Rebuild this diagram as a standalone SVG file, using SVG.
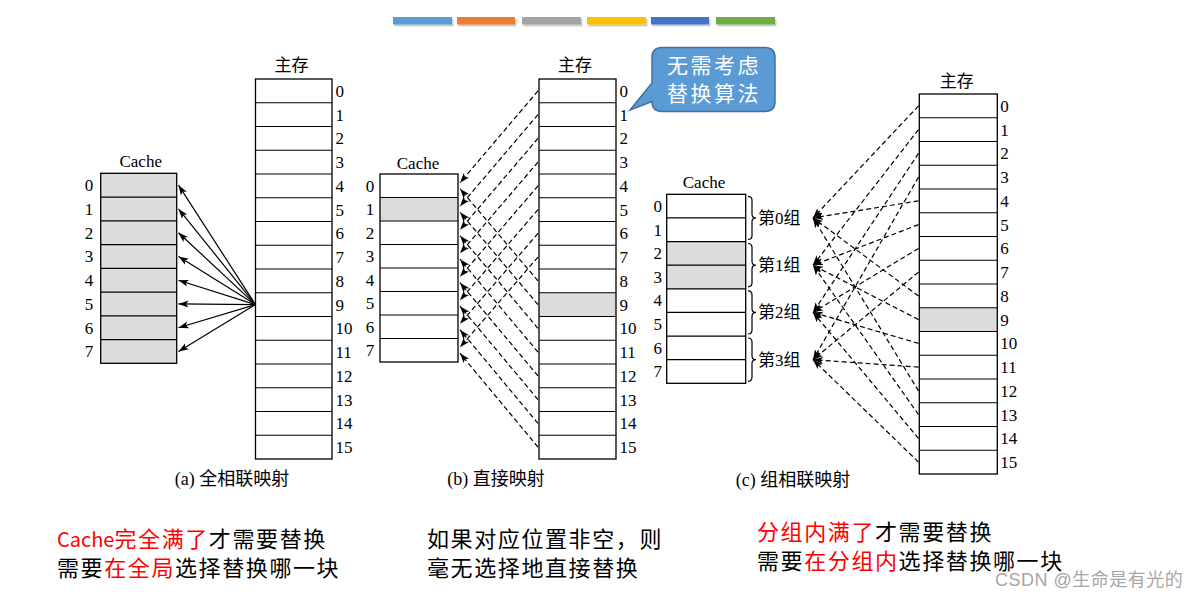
<svg xmlns="http://www.w3.org/2000/svg" width="1201" height="599" viewBox="0 0 1201 599">
<style>
.box{fill:none;stroke:#000;stroke-width:1.3}
.sep{fill:none;stroke:#000;stroke-width:1.2}
.gray{fill:#dcdcdc}
.num{font-family:"Liberation Serif",serif;font-size:17px;fill:#000}
.lbl{font-family:"Liberation Serif","Noto Sans CJK SC",serif;font-size:17px;fill:#000}
.zc{font-family:"Noto Sans CJK SC",sans-serif;font-size:17px;fill:#000}
.cap{font-family:"Liberation Serif","Noto Sans CJK SC",serif;font-size:18px;fill:#000}
.solid{fill:none;stroke:#000;stroke-width:1.2;marker-end:url(#ah)}
.dash{fill:none;stroke:#000;stroke-width:1.2;stroke-dasharray:5 3;marker-end:url(#ah)}
.note{font-family:"Noto Sans CJK SC",sans-serif;font-size:22px;letter-spacing:1.6px;fill:#000}
.red{fill:#ff0000}
</style>
<defs>
<marker id="ah" markerUnits="userSpaceOnUse" markerWidth="11" markerHeight="8" refX="10" refY="4" orient="auto">
<path d="M0,0.5 L10,4 L0,7.5 L2.5,4 Z" fill="#000"/>
</marker>
</defs>
<rect width="1201" height="599" fill="#fff"/>

<g id="color-bars">
<g fill="#000" opacity="0.18">
<rect x="394.5" y="19" width="59" height="7.5"/>
<rect x="458.5" y="19" width="58" height="7.5"/>
<rect x="523.5" y="19" width="59" height="7.5"/>
<rect x="588.5" y="19" width="59" height="7.5"/>
<rect x="652.5" y="19" width="58" height="7.5"/>
<rect x="717.5" y="19" width="59" height="7.5"/>
</g>
<rect x="393" y="17" width="59" height="7.5" fill="#5b9bd5"/>
<rect x="457" y="17" width="58" height="7.5" fill="#ed7d31"/>
<rect x="522" y="17" width="59" height="7.5" fill="#a5a5a5"/>
<rect x="587" y="17" width="59" height="7.5" fill="#ffc000"/>
<rect x="651" y="17" width="58" height="7.5" fill="#4472c4"/>
<rect x="716" y="17" width="59" height="7.5" fill="#70ad47"/>
</g>

<!-- (a) fully associative -->
<g id="a-mem" transform="translate(255.5,79)">
<rect class="box" width="76.5" height="380"/>
<path class="sep" d="M0 23.75H76.5M0 47.5H76.5M0 71.25H76.5M0 95H76.5M0 118.75H76.5M0 142.5H76.5M0 166.25H76.5M0 190H76.5M0 213.75H76.5M0 237.5H76.5M0 261.25H76.5M0 285H76.5M0 308.75H76.5M0 332.5H76.5M0 356.25H76.5"/>
<text class="zc" x="36" y="-8" text-anchor="middle">主存</text>
<g class="num">
<text x="80" y="17.8">0</text><text x="80" y="41.5">1</text><text x="80" y="65.3">2</text><text x="80" y="89">3</text>
<text x="80" y="112.8">4</text><text x="80" y="136.5">5</text><text x="80" y="160.3">6</text><text x="80" y="184">7</text>
<text x="80" y="207.8">8</text><text x="80" y="231.5">9</text><text x="80" y="255.3">10</text><text x="80" y="279">11</text>
<text x="80" y="302.8">12</text><text x="80" y="326.5">13</text><text x="80" y="350.3">14</text><text x="80" y="374">15</text>
</g>
</g>
<g id="a-cache" transform="translate(100.7,173.3)">
<rect class="gray" width="76" height="190"/>
<rect class="box" width="76" height="190"/>
<path class="sep" d="M0 23.75H76M0 47.5H76M0 71.25H76M0 95H76M0 118.75H76M0 142.5H76M0 166.25H76"/>
<text class="lbl" x="40" y="-6" text-anchor="middle">Cache</text>
<g class="num" text-anchor="middle">
<text x="-11.7" y="17.8">0</text><text x="-11.7" y="41.5">1</text><text x="-11.7" y="65.3">2</text><text x="-11.7" y="89">3</text>
<text x="-11.7" y="112.8">4</text><text x="-11.7" y="136.5">5</text><text x="-11.7" y="160.3">6</text><text x="-11.7" y="184">7</text>
</g>
</g>
<text id="a-caption" class="cap" x="232" y="485" text-anchor="middle">(a) 全相联映射</text>

<!-- (b) direct -->
<g id="b-mem" transform="translate(539,79)">
<rect class="gray" y="213.75" width="77" height="23.75"/>
<rect class="box" width="77" height="380"/>
<path class="sep" d="M0 23.75H77M0 47.5H77M0 71.25H77M0 95H77M0 118.75H77M0 142.5H77M0 166.25H77M0 190H77M0 213.75H77M0 237.5H77M0 261.25H77M0 285H77M0 308.75H77M0 332.5H77M0 356.25H77"/>
<text class="zc" x="36" y="-8" text-anchor="middle">主存</text>
<g class="num">
<text x="80.5" y="17.8">0</text><text x="80.5" y="41.5">1</text><text x="80.5" y="65.3">2</text><text x="80.5" y="89">3</text>
<text x="80.5" y="112.8">4</text><text x="80.5" y="136.5">5</text><text x="80.5" y="160.3">6</text><text x="80.5" y="184">7</text>
<text x="80.5" y="207.8">8</text><text x="80.5" y="231.5">9</text><text x="80.5" y="255.3">10</text><text x="80.5" y="279">11</text>
<text x="80.5" y="302.8">12</text><text x="80.5" y="326.5">13</text><text x="80.5" y="350.3">14</text><text x="80.5" y="374">15</text>
</g>
</g>
<g id="b-cache" transform="translate(380,174)">
<rect class="gray" y="23.5" width="78" height="23.5"/>
<rect class="box" width="78" height="188"/>
<path class="sep" d="M0 23.5H78M0 47H78M0 70.5H78M0 94H78M0 117.5H78M0 141H78M0 164.5H78"/>
<text class="lbl" x="38" y="-5.5" text-anchor="middle">Cache</text>
<g class="num" text-anchor="middle">
<text x="-10" y="17.6">0</text><text x="-10" y="41.1">1</text><text x="-10" y="64.6">2</text><text x="-10" y="88.1">3</text>
<text x="-10" y="111.6">4</text><text x="-10" y="135.1">5</text><text x="-10" y="158.6">6</text><text x="-10" y="182.1">7</text>
</g>
</g>
<text id="b-caption" class="cap" x="496" y="485" text-anchor="middle">(b) 直接映射</text>

<g id="callout">
<path d="M662 47.5H765Q775 47.5 775 57.5V101.5Q775 111.5 765 111.5H662Q652 111.5 652 101.5L630 110L652 83V57.5Q652 47.5 662 47.5Z" fill="#5b9bd5" stroke="#41719c" stroke-width="1.5"/>
<text x="714" y="73" text-anchor="middle" font-family="'Noto Sans CJK SC',sans-serif" font-size="21" letter-spacing="2.5" fill="#fff">无需考虑</text>
<text x="714" y="101" text-anchor="middle" font-family="'Noto Sans CJK SC',sans-serif" font-size="21" letter-spacing="2.5" fill="#fff">替换算法</text>
</g>

<!-- (c) set associative -->
<g id="c-mem" transform="translate(919.3,94)">
<rect class="gray" y="213.75" width="78" height="23.75"/>
<rect class="box" width="78" height="380"/>
<path class="sep" d="M0 23.75H78M0 47.5H78M0 71.25H78M0 95H78M0 118.75H78M0 142.5H78M0 166.25H78M0 190H78M0 213.75H78M0 237.5H78M0 261.25H78M0 285H78M0 308.75H78M0 332.5H78M0 356.25H78"/>
<text class="zc" x="37.5" y="-7" text-anchor="middle">主存</text>
<g class="num">
<text x="81" y="17.8">0</text><text x="81" y="41.5">1</text><text x="81" y="65.3">2</text><text x="81" y="89">3</text>
<text x="81" y="112.8">4</text><text x="81" y="136.5">5</text><text x="81" y="160.3">6</text><text x="81" y="184">7</text>
<text x="81" y="207.8">8</text><text x="81" y="231.5">9</text><text x="81" y="255.3">10</text><text x="81" y="279">11</text>
<text x="81" y="302.8">12</text><text x="81" y="326.5">13</text><text x="81" y="350.3">14</text><text x="81" y="374">15</text>
</g>
</g>
<g id="c-cache" transform="translate(666.7,194.3)">
<rect class="gray" y="47.25" width="79" height="47.25"/>
<rect class="box" width="79" height="189"/>
<path class="sep" d="M0 23.625H79M0 47.25H79M0 70.875H79M0 94.5H79M0 118.125H79M0 141.75H79M0 165.375H79"/>
<text class="lbl" x="37.3" y="-6.3" text-anchor="middle">Cache</text>
<g class="num" text-anchor="middle">
<text x="-9" y="17.7">0</text><text x="-9" y="41.3">1</text><text x="-9" y="65">2</text><text x="-9" y="88.6">3</text>
<text x="-9" y="112.2">4</text><text x="-9" y="135.8">5</text><text x="-9" y="159.5">6</text><text x="-9" y="183.1">7</text>
</g>
</g>
<g id="c-groups">
<path class="sep" d="M748 196.3Q752 196.3 752 200.3V213.9Q752 217.9 756 217.9Q752 217.9 752 221.9V235.5Q752 239.5 748 239.5"/>
<path class="sep" d="M748 243.5Q752 243.5 752 247.5V261.2Q752 265.2 756 265.2Q752 265.2 752 269.2V282.8Q752 286.8 748 286.8"/>
<path class="sep" d="M748 290.8Q752 290.8 752 294.8V308.4Q752 312.4 756 312.4Q752 312.4 752 316.4V330Q752 334 748 334"/>
<path class="sep" d="M748 338Q752 338 752 342V355.7Q752 359.7 756 359.7Q752 359.7 752 363.7V377.3Q752 381.3 748 381.3"/>
<text class="lbl" x="758" y="223.9">第0组</text>
<text class="lbl" x="758" y="271.2">第1组</text>
<text class="lbl" x="758" y="318.4">第2组</text>
<text class="lbl" x="758" y="365.7">第3组</text>
</g>
<text id="c-caption" class="cap" x="793" y="486" text-anchor="middle">(c) 组相联映射</text>

<g id="connectors">
<g id="conn-a">
<line class="solid" x1="255.5" y1="304.6" x2="178.5" y2="185.2"/>
<line class="solid" x1="255.5" y1="304.6" x2="178.5" y2="208.9"/>
<line class="solid" x1="255.5" y1="304.6" x2="178.5" y2="232.7"/>
<line class="solid" x1="255.5" y1="304.6" x2="178.5" y2="256.4"/>
<line class="solid" x1="255.5" y1="304.6" x2="178.5" y2="280.2"/>
<line class="solid" x1="255.5" y1="304.6" x2="178.5" y2="303.9"/>
<line class="solid" x1="255.5" y1="304.6" x2="178.5" y2="327.7"/>
<line class="solid" x1="255.5" y1="304.6" x2="178.5" y2="351.4"/>
</g>
<g id="conn-b">
<line class="dash" x1="538" y1="90.9" x2="460" y2="182.75"/>
<line class="dash" x1="538" y1="114.6" x2="460" y2="206.25"/>
<line class="dash" x1="538" y1="138.4" x2="460" y2="229.75"/>
<line class="dash" x1="538" y1="162.1" x2="460" y2="253.25"/>
<line class="dash" x1="538" y1="185.9" x2="460" y2="276.75"/>
<line class="dash" x1="538" y1="209.6" x2="460" y2="300.25"/>
<line class="dash" x1="538" y1="233.4" x2="460" y2="323.75"/>
<line class="dash" x1="538" y1="257.1" x2="460" y2="347.25"/>
<line class="dash" x1="538" y1="280.9" x2="460" y2="188.75"/>
<line class="dash" x1="538" y1="304.6" x2="460" y2="212.25"/>
<line class="dash" x1="538" y1="328.4" x2="460" y2="235.75"/>
<line class="dash" x1="538" y1="352.1" x2="460" y2="259.25"/>
<line class="dash" x1="538" y1="375.9" x2="460" y2="282.75"/>
<line class="dash" x1="538" y1="399.6" x2="460" y2="306.25"/>
<line class="dash" x1="538" y1="423.4" x2="460" y2="329.75"/>
<line class="dash" x1="538" y1="447.1" x2="460" y2="353.25"/>
</g>
<g id="conn-c">
<line class="dash" x1="918.5" y1="105.9" x2="813" y2="217.9"/>
<line class="dash" x1="918.5" y1="129.6" x2="813" y2="265.2"/>
<line class="dash" x1="918.5" y1="153.4" x2="813" y2="312.4"/>
<line class="dash" x1="918.5" y1="177.1" x2="813" y2="359.7"/>
<line class="dash" x1="918.5" y1="200.9" x2="813" y2="217.9"/>
<line class="dash" x1="918.5" y1="224.6" x2="813" y2="265.2"/>
<line class="dash" x1="918.5" y1="248.4" x2="813" y2="312.4"/>
<line class="dash" x1="918.5" y1="272.1" x2="813" y2="359.7"/>
<line class="dash" x1="918.5" y1="295.9" x2="813" y2="217.9"/>
<line class="dash" x1="918.5" y1="319.6" x2="813" y2="265.2"/>
<line class="dash" x1="918.5" y1="343.4" x2="813" y2="312.4"/>
<line class="dash" x1="918.5" y1="367.1" x2="813" y2="359.7"/>
<line class="dash" x1="918.5" y1="390.9" x2="813" y2="217.9"/>
<line class="dash" x1="918.5" y1="414.6" x2="813" y2="265.2"/>
<line class="dash" x1="918.5" y1="438.4" x2="813" y2="312.4"/>
<line class="dash" x1="918.5" y1="462.1" x2="813" y2="359.7"/>
</g>
</g>

<g id="notes">
<text class="note" x="57" y="547"><tspan class="red" font-size="20" letter-spacing="0">Cache</tspan><tspan class="red">完全满了</tspan>才需要替换</text>
<text class="note" x="57" y="576">需要<tspan class="red">在全局</tspan>选择替换哪一块</text>
<text class="note" x="427" y="547">如果对应位置非空，则</text>
<text class="note" x="427" y="576">毫无选择地直接替换</text>
<text class="note" x="757" y="539.5"><tspan class="red">分组内满了</tspan>才需要替换</text>
<text class="note" x="757" y="568.5">需要<tspan class="red">在分组内</tspan>选择替换哪一块</text>
<text x="995" y="586" font-family="'Liberation Sans','Noto Sans CJK SC',sans-serif" font-size="18" letter-spacing="0.5" fill="#a6a6a6">CSDN @生命是有光的</text>
</g>
</svg>
